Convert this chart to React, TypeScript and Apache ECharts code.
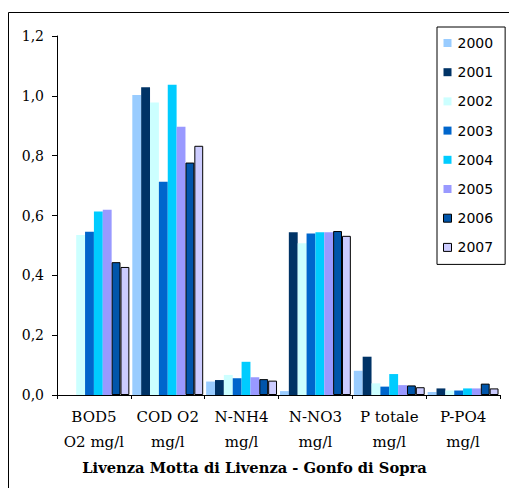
import React, { useEffect, useRef } from "react";
import * as echarts from "echarts";

const categories = [
  "BOD5\nO2 mg/l",
  "COD O2\nmg/l",
  "N-NH4\nmg/l",
  "N-NO3\nmg/l",
  "P totale\nmg/l",
  "P-PO4\nmg/l",
];
const years = ["2000", "2001", "2002", "2003", "2004", "2005", "2006", "2007"];
const v2000 = [null, 1.003, 0.045, 0.013, 0.081, 0.01];
const v2001 = [null, 1.029, 0.05, 0.544, 0.128, 0.022];
const v2002 = [0.535, 0.978, 0.067, 0.507, 0.039, 0.015];
const v2003 = [0.546, 0.713, 0.056, 0.54, 0.028, 0.015];
const v2004 = [0.613, 1.037, 0.111, 0.544, 0.07, 0.022];
const v2005 = [0.619, 0.897, 0.059, 0.544, 0.033, 0.022];
const v2006 = [0.444, 0.777, 0.053, 0.548, 0.032, 0.038];
const v2007 = [0.428, 0.833, 0.048, 0.532, 0.026, 0.022];
const seriesValues = [v2000, v2001, v2002, v2003, v2004, v2005, v2006, v2007];
const colors = ["#99CCFF", "#003366", "#CCFFFF", "#0066CC", "#00CCFF", "#9999FF", "#0055AA", "#CCCCFF"];
const bordered = [false, false, false, false, false, false, true, true];
const yTicks = [0, 0.2, 0.4, 0.6, 0.8, 1.0, 1.2];
const title = "Livenza Motta di Livenza - Gonfo di Sopra";

export default function App() {
  const ref = useRef<HTMLDivElement>(null);
  useEffect(() => {
    if (!ref.current) return;
    const chart = echarts.init(ref.current, undefined, { renderer: "svg" });
    chart.setOption({
      animation: false,
      backgroundColor: "#ffffff",
      title: {
        text: title,
        left: "center",
        top: 455,
        textStyle: { fontFamily: "DejaVu Serif", fontWeight: "bold", fontSize: 14.7, color: "#000" },
      },
      legend: {
        orient: "vertical",
        left: 437,
        top: 27,
        data: years.map((y, i) => ({
          name: y,
          icon: "rect",
          itemStyle: {
            color: colors[i],
            borderColor: bordered[i] ? "#000" : colors[i],
            borderWidth: bordered[i] ? 1 : 0,
          },
        })),
        itemWidth: 8,
        itemHeight: 8,
        itemGap: 15.2,
        padding: [9, 12, 10, 6],
        borderColor: "#000",
        borderWidth: 1,
        backgroundColor: "#fff",
        textStyle: { fontFamily: "DejaVu Sans", fontSize: 14, color: "#000", padding: [0, 0, 0, 1] },
      },
      grid: { left: 57, right: 9, top: 36, bottom: 93 },
      xAxis: {
        type: "category",
        data: categories,
        axisLine: { lineStyle: { color: "#000", width: 1 } },
        axisTick: { show: true, length: 4, lineStyle: { color: "#000" } },
        axisLabel: {
          color: "#000",
          fontFamily: "DejaVu Serif",
          fontSize: 15,
          lineHeight: 25,
          margin: 9,
          interval: 0,
        },
      },
      yAxis: {
        type: "value",
        min: 0,
        max: 1.2,
        interval: 0.2,
        splitLine: { show: false },
        axisLine: { show: true, lineStyle: { color: "#000", width: 1 } },
        axisTick: { show: true, length: 5, lineStyle: { color: "#000" } },
        axisLabel: {
          color: "#000",
          fontFamily: "DejaVu Serif",
          fontSize: 14,
          margin: 13,
          formatter: (v: number) => {
            const t = yTicks.find((x) => Math.abs(x - v) < 1e-9);
            return (t !== undefined ? t : v).toFixed(1).replace(".", ",");
          },
        },
      },
      series: years.map((y, i) => ({
        name: y,
        type: "bar",
        data: seriesValues[i],
        barGap: "0%",
        barCategoryGap: "4%",
        itemStyle: {
          color: colors[i],
          borderColor: bordered[i] ? "#000" : colors[i],
          borderWidth: bordered[i] ? 1 : 0,
        },
      })),
      graphic: [
        {
          type: "rect",
          shape: { x: 8.5, y: 12.5, width: 600, height: 600 },
          style: { fill: "none", stroke: "#000", lineWidth: 1 },
          silent: true,
          z: 100,
        },
      ],
    });
    return () => chart.dispose();
  }, []);
  return (
    <div
      ref={ref}
      style={{ position: "fixed", left: 0, top: 0, width: 509, height: 488 }}
    />
  );
}
